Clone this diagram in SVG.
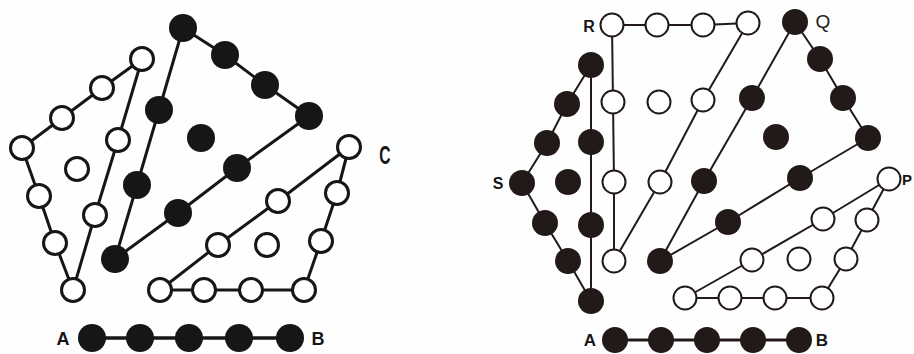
<svg xmlns="http://www.w3.org/2000/svg" width="914" height="354" viewBox="0 0 914 354">
<style>
.ln1{stroke:#161616;stroke-width:3;fill:none;stroke-linejoin:round;stroke-linecap:round}
.ln2{stroke:#221a18;stroke-width:2;fill:none;stroke-linejoin:round;stroke-linecap:round}
.ab1{stroke:#161616;stroke-width:3.5}
.ab2{stroke:#221a18;stroke-width:3}
.b1{fill:#161616}
.w1{fill:#fff;stroke:#161616;stroke-width:3}
.b2{fill:#221a18}
.w2{fill:#fff;stroke:#221a18;stroke-width:2}
.lbl{font-family:"Liberation Sans",Arial,sans-serif;font-weight:bold;fill:#161616;text-anchor:middle}
</style>
<rect width="914" height="354" fill="#fefefe"/>
<g id="connectors">
<polygon class="ln1" points="183,28 225,55 265,85 309,116 237,168 178,213 115,259 137,185 159,110"/>
<polygon class="ln1" points="142,59 102,88 62,118 22,148 39,196 55,243 73,290 95,215 118,140"/>
<polygon class="ln1" points="349,147 337,193 321,241 304,290 251,290 204,290 160,290 218,245 278,201"/>
<line class="ab1" x1="92" y1="338" x2="290" y2="338"/>
<polygon class="ln2" points="591,65 567,104 547,143 522,183 545,223 568,261 591,301 591,225 591,142"/>
<polygon class="ln2" points="612,25 657,25 703,25 748,23 703,100 660,182 614,261 614,182 613,102"/>
<polygon class="ln2" points="795,22 820,59 843,98 868,138 800,178 728,222 660,261 704,181 752,98"/>
<polygon class="ln2" points="685,298 730,298 775,298 822,298 846,259 867,220 889,179 823,219 752,260"/>
<line class="ab2" x1="615" y1="340" x2="800" y2="340"/>
</g>
<!-- Left figure: black triangle -->
<g id="lb1"><circle class="b1" cx="183" cy="28" r="14"/></g>
<g id="lb2"><circle class="b1" cx="225" cy="55" r="14"/></g>
<g id="lb3"><circle class="b1" cx="265" cy="85" r="14"/></g>
<g id="lb4"><circle class="b1" cx="309" cy="116" r="14"/></g>
<g id="lb5"><circle class="b1" cx="237" cy="168" r="14"/></g>
<g id="lb6"><circle class="b1" cx="178" cy="213" r="14"/></g>
<g id="lb7"><circle class="b1" cx="115" cy="259" r="14"/></g>
<g id="lb8"><circle class="b1" cx="137" cy="185" r="14"/></g>
<g id="lb9"><circle class="b1" cx="159" cy="110" r="14"/></g>
<g id="lb10"><circle class="b1" cx="201" cy="138" r="14"/></g>
<!-- Left figure: white left triangle -->
<g id="lw1"><circle class="w1" cx="142" cy="59" r="11.5"/></g>
<g id="lw2"><circle class="w1" cx="102" cy="88" r="11.5"/></g>
<g id="lw3"><circle class="w1" cx="62" cy="118" r="11.5"/></g>
<g id="lw4"><circle class="w1" cx="22" cy="148" r="11.5"/></g>
<g id="lw5"><circle class="w1" cx="39" cy="196" r="11.5"/></g>
<g id="lw6"><circle class="w1" cx="55" cy="243" r="11.5"/></g>
<g id="lw7"><circle class="w1" cx="73" cy="290" r="11.5"/></g>
<g id="lw8"><circle class="w1" cx="95" cy="215" r="11.5"/></g>
<g id="lw9"><circle class="w1" cx="118" cy="140" r="11.5"/></g>
<g id="lw10"><circle class="w1" cx="77" cy="169" r="11.5"/></g>
<!-- Left figure: white lower-right triangle -->
<g id="lc1"><circle class="w1" cx="349" cy="147" r="11.5"/><text class="lbl" font-size="26" transform="translate(385,164) scale(0.6,1)">C</text></g>
<g id="lc2"><circle class="w1" cx="337" cy="193" r="11.5"/></g>
<g id="lc3"><circle class="w1" cx="321" cy="241" r="11.5"/></g>
<g id="lc4"><circle class="w1" cx="304" cy="290" r="11.5"/></g>
<g id="lc5"><circle class="w1" cx="251" cy="290" r="11.5"/></g>
<g id="lc6"><circle class="w1" cx="204" cy="290" r="11.5"/></g>
<g id="lc7"><circle class="w1" cx="160" cy="290" r="11.5"/></g>
<g id="lc8"><circle class="w1" cx="218" cy="245" r="11.5"/></g>
<g id="lc9"><circle class="w1" cx="278" cy="201" r="11.5"/></g>
<g id="lc10"><circle class="w1" cx="267" cy="245" r="11.5"/></g>
<!-- Left A-B -->
<g id="lab1"><circle class="b1" cx="92" cy="338" r="14"/><text class="lbl" font-size="18" x="63" y="345">A</text></g>
<g id="lab2"><circle class="b1" cx="140" cy="338" r="14"/></g>
<g id="lab3"><circle class="b1" cx="189" cy="338" r="14"/></g>
<g id="lab4"><circle class="b1" cx="239" cy="338" r="14"/></g>
<g id="lab5"><circle class="b1" cx="290" cy="338" r="14"/><text class="lbl" font-size="18" x="318" y="345">B</text></g>
<!-- Right figure: black left shape -->
<g id="rs1"><circle class="b2" cx="591" cy="65" r="13"/></g>
<g id="rs2"><circle class="b2" cx="567" cy="104" r="13"/></g>
<g id="rs3"><circle class="b2" cx="547" cy="143" r="13"/></g>
<g id="rs4"><circle class="b2" cx="522" cy="183" r="13"/><text class="lbl" font-size="16" x="498" y="189">S</text></g>
<g id="rs5"><circle class="b2" cx="545" cy="223" r="13"/></g>
<g id="rs6"><circle class="b2" cx="568" cy="261" r="13"/></g>
<g id="rs7"><circle class="b2" cx="591" cy="301" r="13"/></g>
<g id="rs8"><circle class="b2" cx="591" cy="225" r="13"/></g>
<g id="rs9"><circle class="b2" cx="591" cy="142" r="13"/></g>
<g id="rs10"><circle class="b2" cx="568" cy="182" r="13"/></g>
<!-- Right figure: white middle -->
<g id="rr1"><circle class="w2" cx="612" cy="25" r="11.5"/><text class="lbl" font-size="16" x="589" y="32">R</text></g>
<g id="rr2"><circle class="w2" cx="657" cy="25" r="11.5"/></g>
<g id="rr3"><circle class="w2" cx="703" cy="25" r="11.5"/></g>
<g id="rr4"><circle class="w2" cx="748" cy="23" r="11.5"/></g>
<g id="rr5"><circle class="w2" cx="703" cy="100" r="11.5"/></g>
<g id="rr6"><circle class="w2" cx="660" cy="182" r="11.5"/></g>
<g id="rr7"><circle class="w2" cx="614" cy="261" r="11.5"/></g>
<g id="rr8"><circle class="w2" cx="614" cy="182" r="11.5"/></g>
<g id="rr9"><circle class="w2" cx="613" cy="102" r="11.5"/></g>
<g id="rr10"><circle class="w2" cx="659" cy="102" r="11.5"/></g>
<!-- Right figure: black right triangle -->
<g id="rq1"><circle class="b2" cx="795" cy="22" r="13"/><text x="823" y="28" font-size="19" font-family="Liberation Sans,Arial,sans-serif" fill="#221a18" text-anchor="middle">Q</text></g>
<g id="rq2"><circle class="b2" cx="820" cy="59" r="13"/></g>
<g id="rq3"><circle class="b2" cx="843" cy="98" r="13"/></g>
<g id="rq4"><circle class="b2" cx="868" cy="138" r="13"/></g>
<g id="rq5"><circle class="b2" cx="800" cy="178" r="13"/></g>
<g id="rq6"><circle class="b2" cx="728" cy="222" r="13"/></g>
<g id="rq7"><circle class="b2" cx="660" cy="261" r="13"/></g>
<g id="rq8"><circle class="b2" cx="704" cy="181" r="13"/></g>
<g id="rq9"><circle class="b2" cx="752" cy="98" r="13"/></g>
<g id="rq10"><circle class="b2" cx="776" cy="137" r="13"/></g>
<!-- Right figure: white bottom-right -->
<g id="rp1"><circle class="w2" cx="889" cy="179" r="11.5"/><text class="lbl" font-size="15" x="902" y="185" style="text-anchor:start">P</text></g>
<g id="rp2"><circle class="w2" cx="867" cy="220" r="11.5"/></g>
<g id="rp3"><circle class="w2" cx="846" cy="259" r="11.5"/></g>
<g id="rp4"><circle class="w2" cx="822" cy="298" r="11.5"/></g>
<g id="rp5"><circle class="w2" cx="775" cy="298" r="11.5"/></g>
<g id="rp6"><circle class="w2" cx="730" cy="298" r="11.5"/></g>
<g id="rp7"><circle class="w2" cx="685" cy="298" r="11.5"/></g>
<g id="rp8"><circle class="w2" cx="752" cy="260" r="11.5"/></g>
<g id="rp9"><circle class="w2" cx="823" cy="219" r="11.5"/></g>
<g id="rp10"><circle class="w2" cx="799" cy="259" r="11.5"/></g>
<!-- Right A-B -->
<g id="rab1"><circle class="b2" cx="615" cy="340" r="13"/><text class="lbl" font-size="17" x="590" y="346">A</text></g>
<g id="rab2"><circle class="b2" cx="661" cy="340" r="13"/></g>
<g id="rab3"><circle class="b2" cx="707" cy="340" r="13"/></g>
<g id="rab4"><circle class="b2" cx="753" cy="340" r="13"/></g>
<g id="rab5"><circle class="b2" cx="799" cy="340" r="13"/><text class="lbl" font-size="17" x="822" y="346">B</text></g>
</svg>
